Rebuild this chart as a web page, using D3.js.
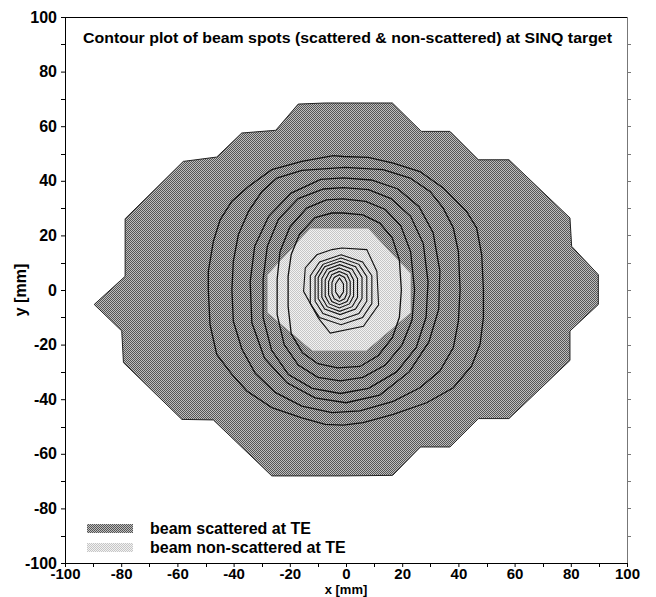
<!DOCTYPE html>
<html>
<head>
<meta charset="utf-8">
<script src="https://cdn.jsdelivr.net/npm/d3@7"></script>
<style>
  html, body { margin: 0; padding: 0; background: #fff; }
  svg { display: block; }
  text { font-family: Arial, "Liberation Sans", sans-serif; font-weight: bold; fill: #000; }
</style>
</head>
<body>
<script>
// ---------------- DATA (mm) ----------------
const titleText = "Contour plot of beam spots (scattered & non-scattered) at SINQ target";
const xAxisLabel = "x [mm]";
const yAxisLabel = "y [mm]";
const legendLabels = ["beam scattered at TE", "beam non-scattered at TE"];

const xMajorTicks = [-100, -80, -60, -40, -20, 0, 20, 40, 60, 80, 100];
const xMajorLabels = ["-100", "-80", "-60", "-40", "-20", "0", "20", "40", "60", "80", "100"];
const yMajorTicks = [-100, -80, -60, -40, -20, 0, 20, 40, 60, 80, 100];
const yMajorLabels = ["-100", "-80", "-60", "-40", "-20", "0", "20", "40", "60", "80", "100"];
const minorTicks = [-90, -70, -50, -30, -10, 10, 30, 50, 70, 90];
const rightTicks = [-90, -80, -70, -60, -50, -40, -30, -20, -10, 0, 10, 20, 30, 40, 50, 60, 70, 80, 90];

// outline of the scattered beam spot
const scatteredOutline = [[-17.0,68.1],[-7.4,68.5],[16.5,68.5],[26.8,58.1],[37.0,58.1],[47.1,47.7],[58.0,47.7],
  [79.7,26.4],[80.3,16.0],[89.8,5.6],[89.8,-5.3],[79.7,-15.0],[79.7,-25.8],[58.0,-47.1],[47.1,-47.1],
  [37.0,-57.5],[26.5,-57.5],[16.6,-67.9],[-2.1,-68.1],[-26.4,-68.1],[-47.2,-47.6],[-58.4,-47.4],
  [-79.2,-26.6],[-79.8,-15.0],[-89.6,-5.3],[-78.6,5.0],[-78.6,26.1],[-57.9,47.1],[-46.0,48.7],
  [-37.1,57.5],[-25.0,58.5]];

// outline of the non-scattered beam spot
const nonScatteredOutline = [[-12.7,22.7],[7.9,22.7],[23.2,6.0],[23.2,-8.3],[7.2,-22.4],[-12.0,-22.4],[-28.1,-8.3],[-28.1,5.6]];

// contour rings of the scattered beam (outer to inner)
const ring1 = [[-1.0,48.9],[7.9,48.6],[16.8,46.5],[26.3,43.4],[34.6,37.4],[42.9,28.8],[46.5,22.7],[48.3,12.9],[48.9,0.1],
  [48.9,-10.1],[47.7,-19.9],[44.7,-27.8],[38.2,-35.8],[28.7,-41.3],[16.8,-45.6],[6.1,-48.6],[-1.0,-49.5],[-7.4,-49.2],
  [-15.7,-46.8],[-26.4,-43.1],[-35.3,-37.0],[-40.6,-30.9],[-46.0,-23.6],[-48.4,-12.6],[-49.0,0.1],[-49.0,6.8],
  [-47.2,17.8],[-44.8,25.7],[-40.6,32.5],[-34.7,37.9],[-26.4,44.1],[-15.7,47.1],[-4.5,49.2]];
const ring2 = [[-0.3,44.9],[13.2,44.1],[22.8,41.0],[29.9,36.1],[34.6,30.0],[38.2,22.7],[40.0,14.1],[40.6,0.1],
  [40.0,-11.4],[38.2,-21.1],[33.4,-29.7],[26.3,-35.8],[16.8,-40.8],[4.9,-44.3],[-5.0,-44.9],[-15.7,-42.5],
  [-25.2,-37.5],[-32.3,-30.5],[-37.1,-21.5],[-40.1,-11.4],[-40.6,0.1],[-40.1,10.5],[-38.3,20.3],[-34.7,28.8],
  [-29.9,36.1],[-24.6,41.0],[-15.7,43.8]];
const ring3 = [[-1,41.1],[9,40.3],[18.5,37],[26,30.5],[31,21],[33.4,7],[33,-7],[29.5,-19],[22.5,-30],[12,-38.5],
  [0,-41.3],[-11,-39.5],[-21,-34],[-29,-25],[-33.5,-12],[-34.1,3],[-32.5,16],[-27.5,27],[-19.5,35.5],[-9,40.5]];
const ring4 = [[-1,37.5],[8,36.8],[16,33.5],[23,27],[27.5,17],[29.2,3],[28.5,-10],[25,-21],[18,-30],[8,-36],
  [-2,-37.9],[-12,-36],[-20.5,-31],[-26.5,-22],[-29.5,-10],[-29.5,4],[-28,16],[-24,26],[-17,33.5],[-8,37]];
const ring5 = [[-1,33.4],[7,32.5],[14,29.5],[19.5,23.5],[23,14],[24.4,0],[23.5,-11],[20,-20],[14,-27.5],[6,-32],
  [-2,-33.3],[-10,-32],[-17,-27.5],[-22,-20],[-24.5,-9],[-24.5,4],[-23.5,14],[-20,23],[-14,30],[-7,33]];
const ring6 = [[-1,28.2],[6,27.5],[12,24.5],[16.5,19],[19,11],[19.7,0],[19,-10],[16.5,-17.5],[11.5,-24],[5,-28],
  [-3,-28.5],[-10,-27],[-15.5,-23],[-19.5,-16],[-20.6,-6],[-20.6,5],[-19.5,13],[-16.5,20.5],[-11,26.5],[-5,28.2]];

// contour rings of the non-scattered beam (outer to inner)
const core1 = [[-5.0,14.8],[-1.5,15.4],[7.4,14.8],[11.0,6.8],[11.6,-5.4],[6.2,-13.3],[-5.6,-15.8],[-9.8,-10.3],
  [-15.1,-0.5],[-14.5,8.1],[-10.4,12.9]];
const core2 = [[-1.75,12.9],[5.9,10.3],[9.2,5.2],[9.2,-5.0],[5.9,-10.1],[-1.75,-12.7],[-9.4,-10.1],[-12.7,-5.0],[-12.7,5.2],[-9.4,10.3]];
const core3 = [[-1.8,11.7],[4.6,9.4],[7.4,4.9],[7.4,-4.1],[4.6,-8.6],[-1.8,-10.9],[-8.2,-8.6],[-11.0,-4.1],[-11.0,4.9],[-8.2,9.4]];
const core4 = [[-2.1,10.5],[3.4,8.5],[5.7,4.6],[5.7,-3.1],[3.4,-7.0],[-2.1,-9.0],[-7.6,-7.0],[-9.9,-3.1],[-9.9,4.6],[-7.6,8.5]];
const core5 = [[-2.25,9.3],[2.2,7.6],[4.1,4.2],[4.1,-2.7],[2.2,-6.1],[-2.25,-7.8],[-6.7,-6.1],[-8.6,-2.7],[-8.6,4.2],[-6.7,7.6]];
const core6 = [[-2.35,8.1],[1.2,6.6],[2.7,3.7],[2.7,-2.2],[1.2,-5.1],[-2.35,-6.6],[-5.9,-5.1],[-7.4,-2.2],[-7.4,3.7],[-5.9,6.6]];
const core7 = [[-2.35,6.8],[0.35,5.6],[1.5,3.1],[1.5,-1.7],[0.35,-4.2],[-2.35,-5.4],[-5.05,-4.2],[-6.2,-1.7],[-6.2,3.1],[-5.05,5.6]];
const core8 = [[-2.35,5.6],[-0.5,4.6],[0.3,2.7],[0.3,-1.3],[-0.5,-3.2],[-2.35,-4.2],[-4.2,-3.2],[-5.0,-1.3],[-5.0,2.7],[-4.2,4.6]];
const core9 = [[-2.3,4.4],[-0.9,2.2],[-0.9,-0.7],[-2.3,-2.9],[-3.7,-0.7],[-3.7,2.2]];

const scatteredContours = [ring1, ring2, ring3, ring4, ring5, ring6];
const nonScatteredContours = [core1, core2, core3, core4, core5, core6, core7, core8, core9];

// ---------------- DRAWING ----------------
const W = 656, H = 597;
const svg = d3.select("body").append("svg").attr("width", W).attr("height", H);
svg.append("rect").attr("width", W).attr("height", H).attr("fill", "#fff");

const x = d3.scaleLinear().domain([-100, 100]).range([65, 627]);
const y = d3.scaleLinear().domain([-100, 100]).range([563, 17]);

// dither patterns
const defs = svg.append("defs");
function dither(id, a, b) {
  const p = defs.append("pattern").attr("id", id).attr("patternUnits", "userSpaceOnUse")
    .attr("width", 2).attr("height", 2);
  p.append("rect").attr("width", 2).attr("height", 2).attr("fill", b).attr("shape-rendering", "crispEdges");
  p.append("rect").attr("x", 0).attr("y", 0).attr("width", 1).attr("height", 1).attr("fill", a).attr("shape-rendering", "crispEdges");
  p.append("rect").attr("x", 1).attr("y", 1).attr("width", 1).attr("height", 1).attr("fill", a).attr("shape-rendering", "crispEdges");
}
dither("darkDither", "#555555", "#bebebe");
dither("lightDither", "#c6c6c6", "#f2f2f2");

const line = d3.line().x(d => x(d[0])).y(d => y(d[1])).curve(d3.curveLinearClosed);

// scattered region
svg.append("path").datum(scatteredOutline).attr("d", line)
  .attr("fill", "url(#darkDither)").attr("stroke", "#222").attr("stroke-width", 1);

// non-scattered region
svg.append("path").datum(nonScatteredOutline).attr("d", line)
  .attr("fill", "url(#lightDither)").attr("stroke", "#777").attr("stroke-width", 0.8);

// contours
svg.append("g").selectAll("path").data(scatteredContours).join("path")
  .attr("d", line).attr("fill", "none").attr("stroke", "#111").attr("stroke-width", 1.3);
svg.append("g").selectAll("path").data(nonScatteredContours).join("path")
  .attr("d", line).attr("fill", "none").attr("stroke", "#111").attr("stroke-width", 1.1);

// frame: top (black) and right (grey)
svg.append("line").attr("x1", x(-100)).attr("x2", x(100)).attr("y1", y(100) + 0.5).attr("y2", y(100) + 0.5)
  .attr("stroke", "#000").attr("stroke-width", 1);
svg.append("line").attr("x1", x(100) + 0.5).attr("x2", x(100) + 0.5).attr("y1", y(100)).attr("y2", y(-100))
  .attr("stroke", "#777").attr("stroke-width", 1);
svg.append("g").selectAll("line").data(rightTicks).join("line")
  .attr("x1", x(100)).attr("x2", x(100) + 4)
  .attr("y1", d => Math.round(y(d)) + 0.5).attr("y2", d => Math.round(y(d)) + 0.5)
  .attr("stroke", "#777");

// axes
const fontSize = 16;
const xAxis = d3.axisBottom(x).tickValues(xMajorTicks).tickSize(4).tickSizeOuter(0).tickPadding(1)
  .tickFormat((d, i) => xMajorLabels[i]);
const gx = svg.append("g").attr("transform", `translate(0,${y(-100)})`).call(xAxis);
gx.selectAll("text").attr("font-size", 15).attr("font-family", "Arial, 'Liberation Sans', sans-serif").attr("font-weight", "bold");
gx.append("g").selectAll("line").data(minorTicks).join("line")
  .attr("x1", d => Math.round(x(d)) + 0.5).attr("x2", d => Math.round(x(d)) + 0.5).attr("y1", 0).attr("y2", 4).attr("stroke", "#000");

const yAxis = d3.axisLeft(y).tickValues(yMajorTicks).tickSize(4).tickSizeOuter(0).tickPadding(4)
  .tickFormat((d, i) => yMajorLabels[i]);
const gy = svg.append("g").attr("transform", `translate(${x(-100)},0)`).call(yAxis);
gy.selectAll("text").attr("font-size", fontSize).attr("font-family", "Arial, 'Liberation Sans', sans-serif").attr("font-weight", "bold");
gy.append("g").selectAll("line").data(minorTicks).join("line")
  .attr("y1", d => Math.round(y(d)) + 0.5).attr("y2", d => Math.round(y(d)) + 0.5).attr("x1", 0).attr("x2", -4).attr("stroke", "#000");

// axis titles
svg.append("text").attr("x", x(0)).attr("y", 594).attr("text-anchor", "middle")
  .attr("font-size", 13).text(xAxisLabel);
svg.append("text").attr("transform", `translate(26,${y(0)}) rotate(-90)`).attr("text-anchor", "middle")
  .attr("font-size", fontSize).text(yAxisLabel);

// title
svg.append("text").attr("x", 83).attr("y", 43).attr("font-size", 15)
  .attr("textLength", 529).attr("lengthAdjust", "spacingAndGlyphs").text(titleText);

// legend
const legendFills = ["url(#darkDither)", "url(#lightDither)"];
const lg = svg.append("g");
legendLabels.forEach((lab, i) => {
  const yy = 524 + i * 19;
  lg.append("rect").attr("x", 87).attr("y", yy).attr("width", 46).attr("height", 9).attr("fill", legendFills[i]);
  lg.append("text").attr("x", 150).attr("y", yy + 10).attr("font-size", fontSize).text(lab);
});
</script>
</body>
</html>
